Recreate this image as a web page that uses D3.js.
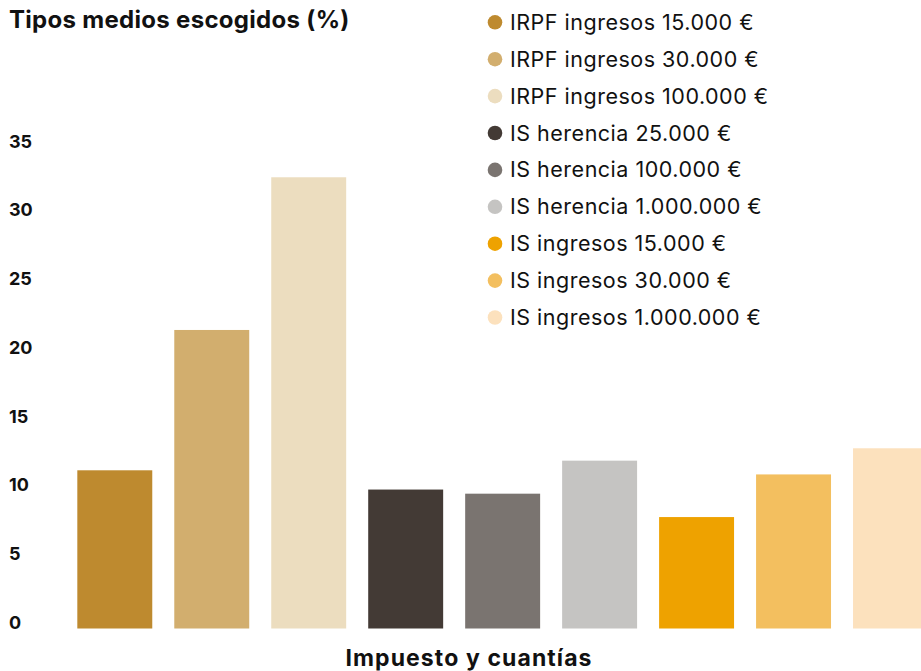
<!DOCTYPE html>
<html>
<head>
<meta charset="utf-8">
<script src="https://cdn.jsdelivr.net/npm/d3@7"></script>
<style>
  body { margin: 0; background: #fff; }
  svg { display: block; font-family: Inter, "Noto Sans", sans-serif; }
</style>
</head>
<body>
<div class="chart"></div>
<script>
// data
const categories = [
  "IRPF ingresos 15.000 €",
  "IRPF ingresos 30.000 €",
  "IRPF ingresos 100.000 €",
  "IS herencia 25.000 €",
  "IS herencia 100.000 €",
  "IS herencia 1.000.000 €",
  "IS ingresos 15.000 €",
  "IS ingresos 30.000 €",
  "IS ingresos 1.000.000 €"
];
const values = [11.5, 21.7, 32.8, 10.1, 9.8, 12.2, 8.1, 11.2, 13.1];
const colors = ["#be8a2f", "#d2ae6e", "#ecddbf", "#433a35", "#7a7470", "#c5c4c2", "#eea200", "#f3bf5f", "#fce1bd"];
const yTicks = [0, 5, 10, 15, 20, 25, 30, 35];

const width = 921;
const height = 671;

const svg = d3.select('.chart').append('svg')
  .attr('width', width)
  .attr('height', height)
  .attr('viewBox', [0, 0, width, height]);

// scales
const x = d3.scaleBand()
  .domain(categories)
  .range([55.3, 950])
  .paddingInner(0.227)
  .paddingOuter(0.227);

const y = d3.scaleLinear()
  .domain([0, 35])
  .range([628.5, 147]);

// bars
svg.append('g')
  .selectAll('rect')
  .data(values)
  .join('rect')
  .attr('x', (d, i) => x(categories[i]))
  .attr('y', d => y(d))
  .attr('width', x.bandwidth())
  .attr('height', d => y(0) - y(d))
  .attr('fill', (d, i) => colors[i]);

// y axis, labels only
const yAxis = svg.append('g')
  .attr('transform', 'translate(9,0)')
  .call(d3.axisLeft(y).tickValues(yTicks).tickSize(0).tickPadding(0));
yAxis.select('.domain').remove();
yAxis.selectAll('text')
  .attr('text-anchor', 'start')
  .attr('dy', 0)
  .attr('fill', '#111')
  .style('font-family', 'Inter, sans-serif')
  .style('font-size', '18px')
  .style('font-weight', 700);

// title
svg.append('text')
  .attr('x', 9)
  .attr('y', 28)
  .attr('fill', '#111')
  .style('font-size', '24px')
  .style('font-weight', 700)
  .style('letter-spacing', '0.3px')
  .text('Tipos medios escogidos (%)');

// x axis title
svg.append('text')
  .attr('x', 469)
  .attr('y', 666)
  .attr('text-anchor', 'middle')
  .attr('fill', '#111')
  .style('font-size', '23px')
  .style('font-weight', 700)
  .style('letter-spacing', '1.1px')
  .text('Impuesto y cuantías');

// legend
const legend = svg.append('g')
  .selectAll('g')
  .data(categories)
  .join('g')
  .attr('transform', (d, i) => `translate(495,${22.3 + i * 36.9})`);

legend.append('circle')
  .attr('r', 7.3)
  .attr('fill', (d, i) => colors[i]);

legend.append('text')
  .attr('x', 15)
  .attr('dy', '0.35em')
  .attr('fill', '#111')
  .style('font-size', '21.5px')
  .style('letter-spacing', '0.5px')
  .text(d => d);
</script>
</body>
</html>
